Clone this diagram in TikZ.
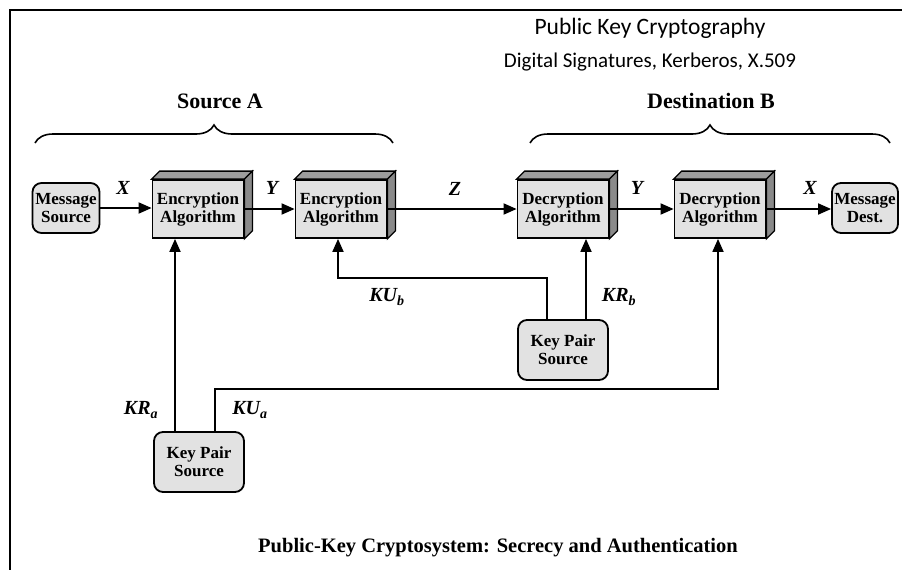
\documentclass[tikz,border=0pt]{standalone}
\usepackage{fontspec}
\setmainfont{Liberation Serif}
\newfontfamily\calfont{Carlito}
\usetikzlibrary{arrows.meta,decorations.pathreplacing,calc}
\definecolor{boxfill}{HTML}{E2E2E2}
\definecolor{sidefill}{HTML}{8A8A8A}
\definecolor{topfill}{HTML}{9C9C9C}
\newcommand\algcube[4]{%
  \node[algbox] (#1) at (#2,#3) {#4};
  \draw[line width=1.3pt, fill=topfill] (#1.north west) -- ++(8pt,8pt) -- ([shift={(8pt,8pt)}]#1.north east) -- (#1.north east) -- cycle;
  \draw[line width=1.3pt, fill=sidefill] (#1.north east) -- ++(8pt,8pt) -- ([shift={(8pt,8pt)}]#1.south east) -- (#1.south east) -- cycle;
}
\begin{document}
\begin{tikzpicture}[x=1pt,y=-1pt,
  font=\bfseries\fontsize{17}{18}\selectfont,
  algbox/.style={draw, line width=1.8pt, fill=boxfill, minimum width=91pt, minimum height=58pt, inner sep=0pt, align=center},
  srcbox/.style={draw, line width=1.8pt, fill=boxfill, rounded corners=9pt, inner sep=0pt, align=center},
  arr/.style={line width=1.8pt, -{Triangle[length=13pt,width=11pt]}},
  lbl/.style={font=\bfseries\itshape\fontsize{20}{22}\selectfont},
  head/.style={font=\bfseries\fontsize{22}{24}\selectfont},
  titl/.style={font=\calfont\fontsize{23.5}{26}\selectfont},
  bracestyle/.style={line width=1.6pt, decorate, decoration={brace, amplitude=18pt}}
]
\useasboundingbox (0,0) rectangle (902,570);
% frame
\draw[line width=2pt] (10,570) -- (10,10) -- (902,10);

% titles
\node[titl] (t1) at (650,28) {Public Key Cryptography};
\node[titl, font=\calfont\fontsize{21}{24}\selectfont] (t2) at (650,62) {Digital Signatures, Kerberos, X.509};

% braces
\node[head] (srcA) at (220,101) {Source A};
\node[head] (dstB) at (711,101) {Destination B};
\coordinate (ba1) at (35,143);
\coordinate (ba2) at (393,143);
\coordinate (bb1) at (530,143);
\coordinate (bb2) at (890,143);
\draw[bracestyle] (ba1) -- (ba2);
\draw[bracestyle] (bb1) -- (bb2);

% boxes
\node[srcbox, minimum width=67pt, minimum height=50pt] (ms) at (66,208) {Message\\Source};
\node[srcbox, minimum width=66pt, minimum height=50pt] (md) at (865,208) {Message\\Dest.};
\algcube{e1}{198}{209}{Encryption\\Algorithm}
\algcube{e2}{341}{209}{Encryption\\Algorithm}
\algcube{d1}{563}{209}{Decryption\\Algorithm}
\algcube{d2}{720}{209}{Decryption\\Algorithm}
\node[srcbox, minimum width=90pt, minimum height=60pt] (kpa) at (199,462) {Key Pair\\Source};
\node[srcbox, minimum width=90pt, minimum height=60pt] (kpb) at (563,350) {Key Pair\\Source};

% horizontal flow
\draw[arr] (ms.east) -- (ms.east -| e1.west);
\draw[arr] (e1.east) -- (e1.east -| e2.west);
\draw[arr] (e2.east) -- (e2.east -| d1.west);
\draw[arr] (d1.east) -- (d1.east -| d2.west);
\draw[arr] (d2.east) -- (d2.east -| md.west);

\node[lbl] (lx1) at (123,188) {X};
\node[lbl] (ly1) at (272,188) {Y};
\node[lbl] (lz) at (455,189) {Z};
\node[lbl] (ly2) at (637,188) {Y};
\node[lbl] (lx2) at (810,188) {X};

% key arrows
\draw[arr] ([xshift=-24pt]kpa.north) -- ([xshift=-24pt]kpa.north |- e1.south);
\draw[arr] ([xshift=16pt]kpa.north) -- ++(0,-42) -| ([xshift=-2pt]d2.south);
\draw[arr] ([xshift=-16pt]kpb.north) -- ++(0,-41) -| ([xshift=-3pt]e2.south);
\draw[arr] ([xshift=23pt]kpb.north) -- ([xshift=23pt]kpb.north |- d1.south);

\node[lbl] (kub) at (387,297) {KU\textsubscript{b}};
\node[lbl] (krb) at (619,297) {KR\textsubscript{b}};
\node[lbl] (kra) at (141,410) {KR\textsubscript{a}};
\node[lbl] (kua) at (250,410) {KU\textsubscript{a}};

% caption
\node[font=\bfseries\fontsize{20.5}{22}\selectfont] (cap) at (498,548) {Public-Key Cryptosystem: Secrecy and Authentication};
\end{tikzpicture}
\end{document}
